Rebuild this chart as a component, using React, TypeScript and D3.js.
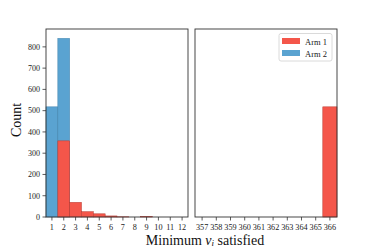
import * as d3 from 'd3';

const binsLeft = [1, 2, 3, 4, 5, 6, 7, 8, 9, 10, 11, 12];
const arm1Left = [0, 358, 69, 25, 15, 5, 1, 0, 2, 0, 0, 0];
const arm2Left = [518, 840, 0, 0, 0, 0, 0, 0, 0, 0, 0, 0];

const binsRight = [357, 358, 359, 360, 361, 362, 363, 364, 365, 366];
const arm1Right = [0, 0, 0, 0, 0, 0, 0, 0, 0, 518];
const arm2Right = [0, 0, 0, 0, 0, 0, 0, 0, 0, 0];

const yTicks = [0, 100, 200, 300, 400, 500, 600, 700, 800];
const seriesNames = ['Arm 1', 'Arm 2'];

const RED = '#f4564a';
const BLUE = '#5aa3d1';
const FONT = '"Liberation Serif", "DejaVu Serif", serif';

const top = 29, bottom = 217;

export default function App() {
  const y = d3.scaleLinear().domain([0, 884]).range([bottom, top]);
  const xL = d3.scaleLinear().domain([0.5, 12.5]).range([46, 188]);
  const xR = d3.scaleLinear().domain([356.5, 366.5]).range([195, 337]);

  const panel = (x: d3.ScaleLinear<number, number>, bins: number[], a1: number[], a2: number[], showY: boolean) => {
    const [x0, x1] = x.range();
    const w = x(1.5) - x(0.5);
    return (
      <g>
        {bins.map((b, i) => a2[i] > 0 && (
          <rect key={'b' + b} x={x(b - 0.5)} y={y(a2[i])} width={w} height={y(0) - y(a2[i])}
            fill={BLUE} stroke="#3f82ad" strokeWidth={0.5} />
        ))}
        {bins.map((b, i) => a1[i] > 0 && (
          <rect key={'r' + b} x={x(b - 0.5)} y={y(a1[i])} width={w} height={y(0) - y(a1[i])}
            fill={RED} stroke="#b8392f" strokeWidth={0.5} />
        ))}
        <rect x={x0} y={top} width={x1 - x0} height={bottom - top} fill="none" stroke="#333" strokeWidth={0.9} />
        {bins.map(b => (
          <g key={'t' + b}>
            <line x1={x(b)} x2={x(b)} y1={bottom} y2={bottom + 3.5} stroke="#333" strokeWidth={0.8} />
            <text x={x(b)} y={bottom + 13} textAnchor="middle" fontSize={8.2} fontFamily={FONT} fill="#222">{b}</text>
          </g>
        ))}
        {showY && yTicks.map(t => (
          <g key={'y' + t}>
            <line x1={x0 - 3.5} x2={x0} y1={y(t)} y2={y(t)} stroke="#333" strokeWidth={0.8} />
            <text x={x0 - 6} y={y(t) + 2.8} textAnchor="end" fontSize={8} fontFamily={FONT} fill="#222">{t}</text>
          </g>
        ))}
      </g>
    );
  };

  return (
    <div style={{ position: 'absolute', left: 0, top: 0 }}>
      <svg width={374} height={249} style={{ display: 'block' }}>
        <rect width={374} height={249} fill="#fff" />
        {panel(xL, binsLeft, arm1Left, arm2Left, true)}
        {panel(xR, binsRight, arm1Right, arm2Right, false)}
        <text transform={`translate(21,${(top + bottom) / 2 - 3}) rotate(-90)`} textAnchor="middle"
          fontSize={14} fontFamily={FONT} fill="#111">Count</text>
        <text x={205} y={244.5} textAnchor="middle" fontSize={14} fontFamily={FONT} fill="#111">
          Minimum <tspan fontStyle="italic">ν</tspan><tspan fontSize={9} dy={1.5} fontStyle="italic">i</tspan><tspan dy={-1.5}> satisfied</tspan>
        </text>
        <g>
          <rect x={279} y={33.5} width={53} height={27.5} rx={2} fill="#fff" stroke="#d0d0d0" strokeWidth={0.8} />
          {seriesNames.map((n, i) => (
            <g key={n}>
              <rect x={282} y={38 + i * 12} width={18} height={6} fill={i === 0 ? RED : BLUE} />
              <text x={305} y={44.5 + i * 12} fontSize={8.5} fontFamily={FONT} fill="#222">{n}</text>
            </g>
          ))}
        </g>
      </svg>
    </div>
  );
}
